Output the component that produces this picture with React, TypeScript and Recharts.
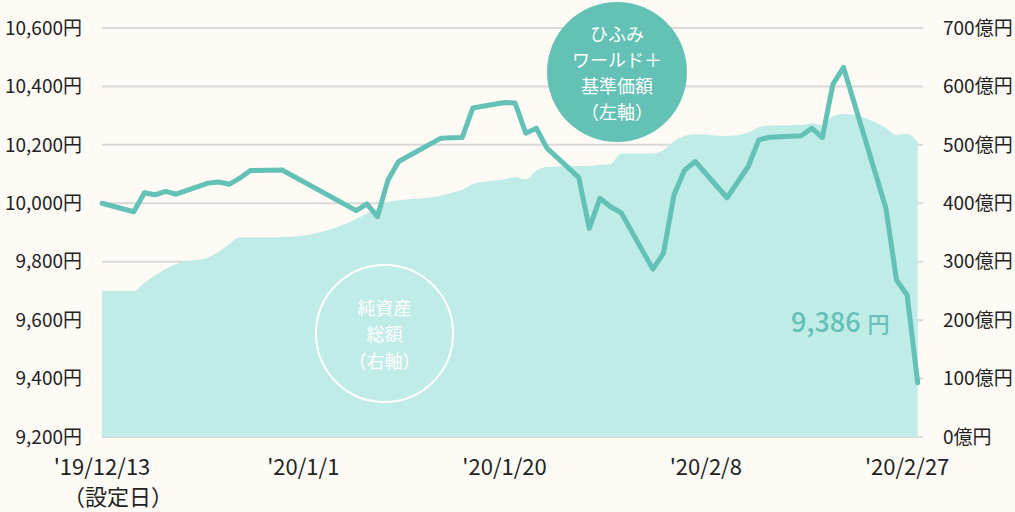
import { ComposedChart, Area, Line, XAxis, YAxis, CartesianGrid } from 'recharts';

// days since 2019/12/13 (設定日), business days only
const days = [0, 3, 4, 5, 6, 7, 10, 11, 12, 13, 14, 17, 24, 25, 26, 27, 28, 32, 33, 34, 35, 38, 39, 40, 41, 42, 45, 46, 47, 48, 49, 52, 53, 54, 55, 56, 59, 61, 62, 63, 66, 67, 68, 69, 70, 74, 75, 76, 77];

// 基準価額 (円)
const nav = [10000, 9971, 10036, 10029, 10041, 10031, 10069, 10073, 10065, 10086, 10112, 10114, 9975, 9998, 9954, 10080, 10143, 10223, 10224, 10225, 10326, 10345, 10343, 10240, 10257, 10189, 10089, 9914, 10017, 9988, 9968, 9775, 9829, 10029, 10114, 10143, 10019, 10126, 10217, 10226, 10231, 10257, 10225, 10408, 10465, 9983, 9737, 9686, 9386];

// 純資産総額 (億円)
const netAssets = [250, 250, 264, 277, 287, 296, 307, 317, 330, 342, 342, 342, 373, 383, 392, 402, 405, 413, 418, 423, 433, 441, 445, 441, 456, 462, 464, 464, 466, 467, 485, 485, 491, 506, 515, 518, 515, 521, 530, 533, 534, 537, 534, 549, 553, 529, 517, 519, 505];

const xTicks = [0, 19, 38, 57, 76];
const xTickLabels = ["'19/12/13", "'20/1/1", "'20/1/20", "'20/2/8", "'20/2/27"];
const leftTicks = [9200, 9400, 9600, 9800, 10000, 10200, 10400, 10600];
const rightTicks = [0, 100, 200, 300, 400, 500, 600, 700];

const navLabel = ['ひふみ', 'ワールド＋', '基準価額', '（左軸）'];
const assetsLabel = ['純資産', '総額', '（右軸）'];

const data = days.map((d, i) => ({ d, nav: nav[i], assets: netAssets[i] }));

const TEAL = '#63c1b5';
const AREA = '#bfece6';
const BG = '#fefbf6';
const FONT = "'Noto Sans CJK JP', 'Noto Sans', sans-serif";

const DateTick = ({ x, y, payload }: any) => {
  const i = xTicks.indexOf(payload.value);
  return (
    <g>
      <text x={x} y={y + 38} textAnchor="middle" fontSize={22} fill="#222" fontFamily={FONT}>
        {xTickLabels[i]}
        {i === 0 && (
          <tspan x={x + 16} dy={30}>
            （設定日）
          </tspan>
        )}
      </text>
    </g>
  );
};

function Badge({ cx, cy, r, lines, filled, fontSize, lineH }: any) {
  return (
    <div
      style={{
        position: 'absolute',
        left: cx - r,
        top: cy - r,
        width: r * 2,
        height: r * 2,
        boxSizing: 'border-box',
        borderRadius: '50%',
        background: filled ? TEAL : 'transparent',
        border: filled ? 'none' : '2.5px solid #fff',
        display: 'flex',
        flexDirection: 'column',
        alignItems: 'center',
        justifyContent: 'center',
        color: '#fff',
        fontSize,
        pointerEvents: 'none',
      }}
    >
      {lines.map((s: string) => (
        <div key={s} style={{ height: lineH, lineHeight: `${lineH}px`, whiteSpace: 'nowrap' }}>
          {s}
        </div>
      ))}
    </div>
  );
}

export default function App() {
  return (
    <div style={{ position: 'relative', width: 1015, height: 512, background: BG, fontFamily: FONT }}>
      <style>{`body{margin:0;background:${BG};}`}</style>
      <ComposedChart width={1015} height={512} data={data} margin={{ top: 28, right: 0, bottom: 0, left: 0 }}>
        <CartesianGrid vertical={false} stroke="#d9d9d9" strokeWidth={2} />
        <XAxis
          dataKey="d"
          type="number"
          domain={[0, 77.5]}
          ticks={xTicks}
          tick={<DateTick />}
          axisLine={false}
          tickLine={false}
          tickSize={0}
          tickMargin={0}
          height={75}
          interval={0}
        />
        <YAxis
          domain={[9200, 10600]}
          ticks={leftTicks}
          width={102}
          axisLine={false}
          tickLine={false}
          tickSize={0}
          tickMargin={20}
          tick={{ fill: '#222', fontSize: 19, fontFamily: FONT }}
          tickFormatter={(v: number) => `${v.toLocaleString('en-US')}円`}
          interval={0}
        />
        <YAxis
          yAxisId="right"
          orientation="right"
          domain={[0, 700]}
          ticks={rightTicks}
          width={92}
          axisLine={false}
          tickLine={false}
          tickSize={0}
          tickMargin={20}
          tick={{ fill: '#222', fontSize: 19, fontFamily: FONT, textAnchor: 'start' }}
          tickFormatter={(v: number) => `${v}億円`}
          interval={0}
        />
        <Area
          yAxisId="right"
          type="monotone"
          dataKey="assets"
          stroke="none"
          fill={AREA}
          fillOpacity={1}
          isAnimationActive={false}
        />
        <Line
          type="linear"
          dataKey="nav"
          stroke={TEAL}
          strokeWidth={5}
          strokeLinejoin="round"
          strokeLinecap="round"
          dot={false}
          activeDot={false}
          isAnimationActive={false}
        />
      </ComposedChart>
      <Badge cx={617} cy={72} r={70} lines={navLabel} filled fontSize={18} lineH={26.2} />
      <Badge cx={384.5} cy={333.5} r={69.5} lines={assetsLabel} fontSize={18} lineH={26.2} />
      <svg width={1015} height={512} style={{ position: 'absolute', left: 0, top: 0, pointerEvents: 'none' }}>
        <text x={791} y={331.5} fill={TEAL} fontSize={27} fontWeight={500} fontFamily={FONT}>
          9,386
          <tspan fontSize={22} dx={7}>円</tspan>
        </text>
      </svg>
    </div>
  );
}
